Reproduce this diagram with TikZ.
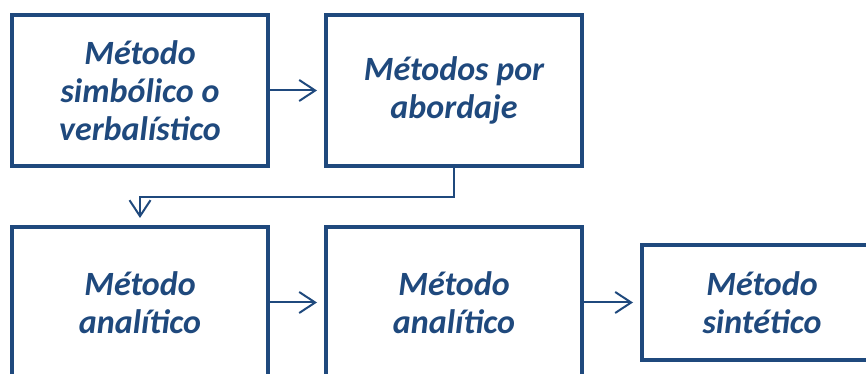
\documentclass[tikz,border=0pt]{standalone}
\usepackage{fontspec}
\setmainfont{Carlito}
\usetikzlibrary{arrows.meta}
\definecolor{dblue}{HTML}{1F497D}
\tikzset{
  box/.style={draw=dblue, line width=4pt, inner sep=0pt, align=center,
    text=dblue, font=\fontsize{34}{38}\selectfont\bfseries\itshape},
  conn/.style={draw=dblue, line width=2pt, shorten >=7pt,
    -{Straight Barb[length=16pt,width=21pt,line width=2pt]}}
}
\begin{document}
\begin{tikzpicture}[x=1pt,y=1pt]
\useasboundingbox (0,0) rectangle (866,374);
\node[box, minimum width=256pt, minimum height=151pt] (A) at (140,283.5) {Método\\simbólico o\\verbalístico};
\node[box, minimum width=256pt, minimum height=151pt] (B) at (454,283.5) {Métodos por\\abordaje};
\node[box, minimum width=256pt, minimum height=151pt] (C) at (140,71.5) {Método\\analítico};
\node[box, minimum width=256pt, minimum height=151pt] (D) at (454,71.5) {Método\\analítico};
\node[box, minimum width=240pt, minimum height=115pt] (E) at (762,71.5) {Método\\sintético};
\draw[conn] (A.east) -- (B.west);
\draw[conn] (B.south) -- ++(0,-29) -| (C.north);
\draw[conn] (C.east) -- (D.west);
\draw[conn] (D.east) -- (E.west);
\end{tikzpicture}
\end{document}
